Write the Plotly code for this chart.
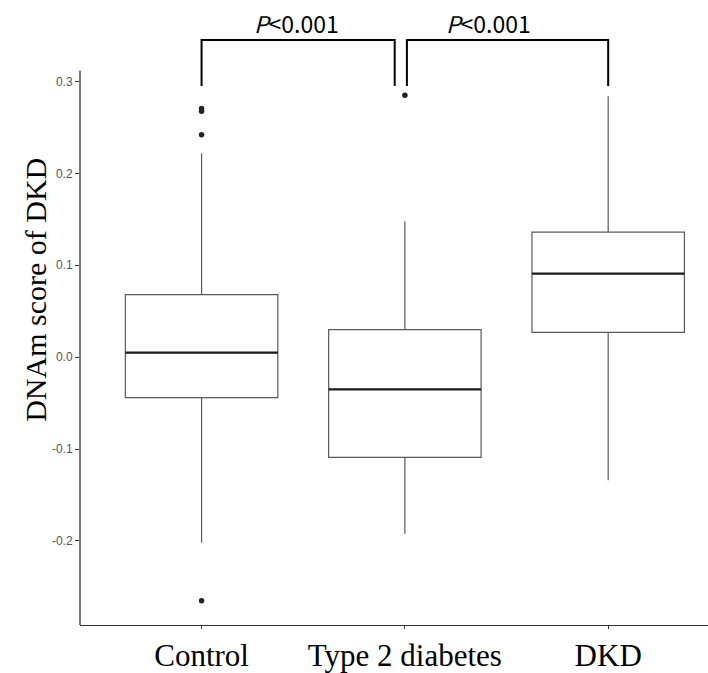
import plotly.graph_objects as go

# Group labels and box statistics for the DNAm score
groups = ["Control", "Type 2 diabetes", "DKD"]
q1 = [-0.044, -0.109, 0.027]
median = [0.005, -0.035, 0.091]
q3 = [0.068, 0.030, 0.136]
lower_whisker = [-0.202, -0.192, -0.134]
upper_whisker = [0.222, 0.148, 0.284]

# Points beyond the whiskers
outlier_group = [0, 0, 0, 0, 1]
outlier_value = [0.2705, 0.2675, 0.242, -0.265, 0.285]

# Pairwise comparison brackets: (start group, end group, label x)
bracket_start = [0.0, 1.01]
bracket_end = [0.95, 2.0]
bracket_label_x = [0.465, 1.41]
bracket_labels = ["<i>P</i><0.001", "<i>P</i><0.001"]
bracket_top = 0.345
bracket_leg_bottom = 0.295
bracket_label_y = 0.364

y_ticks = [-0.2, -0.1, 0.0, 0.1, 0.2, 0.3]
y_tick_text = ["-0.2", "-0.1", "0.0", "0.1", "0.2", "0.3"]

box_width = 0.75
y_min, y_max = -0.2914, 0.3886
panel_top = 0.312

fig = go.Figure()

for i, g in enumerate(groups):
    fig.add_trace(go.Box(
        x=[i], q1=[q1[i]], median=[median[i]], q3=[q3[i]],
        lowerfence=[lower_whisker[i]], upperfence=[upper_whisker[i]],
        width=box_width, whiskerwidth=0, boxpoints=False,
        fillcolor="white", line=dict(color="#5a5a5a", width=1.2),
        name=g, showlegend=False, hoverinfo="skip",
    ))
    # thicker median bar
    fig.add_trace(go.Scatter(
        x=[i - box_width / 2, i + box_width / 2], y=[median[i], median[i]],
        mode="lines", line=dict(color="#1f1f1f", width=2.2),
        showlegend=False, hoverinfo="skip",
    ))

fig.add_trace(go.Scatter(
    x=outlier_group, y=outlier_value, mode="markers",
    marker=dict(color="#222222", size=5.5),
    showlegend=False, hoverinfo="skip", cliponaxis=False,
))

shapes = [
    # y axis line, limited to the panel
    dict(type="line", xref="paper", yref="y", x0=0, x1=0, y0=y_min, y1=panel_top,
         line=dict(color="#333333", width=1.3)),
]
for s, e in zip(bracket_start, bracket_end):
    shapes.append(dict(
        type="path", xref="x", yref="y",
        path=f"M {s},{bracket_leg_bottom} L {s},{bracket_top} L {e},{bracket_top} L {e},{bracket_leg_bottom}",
        line=dict(color="black", width=2),
    ))

annotations = [
    dict(text=t, x=x, y=bracket_label_y, xref="x", yref="y", showarrow=False,
         xanchor="center", yanchor="middle",
         font=dict(family="Noto Sans CJK KR, Noto Sans, sans-serif", size=23, color="black"))
    for t, x in zip(bracket_labels, bracket_label_x)
]
annotations.append(dict(
    text="DNAm score of DKD", textangle=-90, x=-0.072, y=0.073,
    xref="paper", yref="y", showarrow=False, xanchor="center", yanchor="middle",
    font=dict(family="Liberation Serif, Times New Roman, serif", size=30, color="black"),
))

fig.update_layout(
    width=708, height=673,
    margin=dict(l=80, r=0, t=0, b=46),
    paper_bgcolor="white", plot_bgcolor="white",
    shapes=shapes, annotations=annotations,
    xaxis=dict(
        range=[-0.598, 2.491], tickvals=[0, 1, 2], ticktext=groups,
        showline=True, linecolor="#333333", linewidth=1.3,
        ticks="outside", ticklen=3, tickcolor="#333333",
        tickfont=dict(family="Liberation Serif, Times New Roman, serif", size=31, color="black"),
        showgrid=False, zeroline=False,
    ),
    yaxis=dict(
        range=[y_min, y_max], tickvals=y_ticks, ticktext=y_tick_text,
        showline=False, ticks="outside", ticklen=4, tickcolor="#333333",
        tickfont=dict(family="Liberation Sans Narrow, Liberation Sans, Arial, sans-serif",
                      size=12, color="#555555"),
        showgrid=False, zeroline=False,
    ),
)

fig.write_html("out.html")
